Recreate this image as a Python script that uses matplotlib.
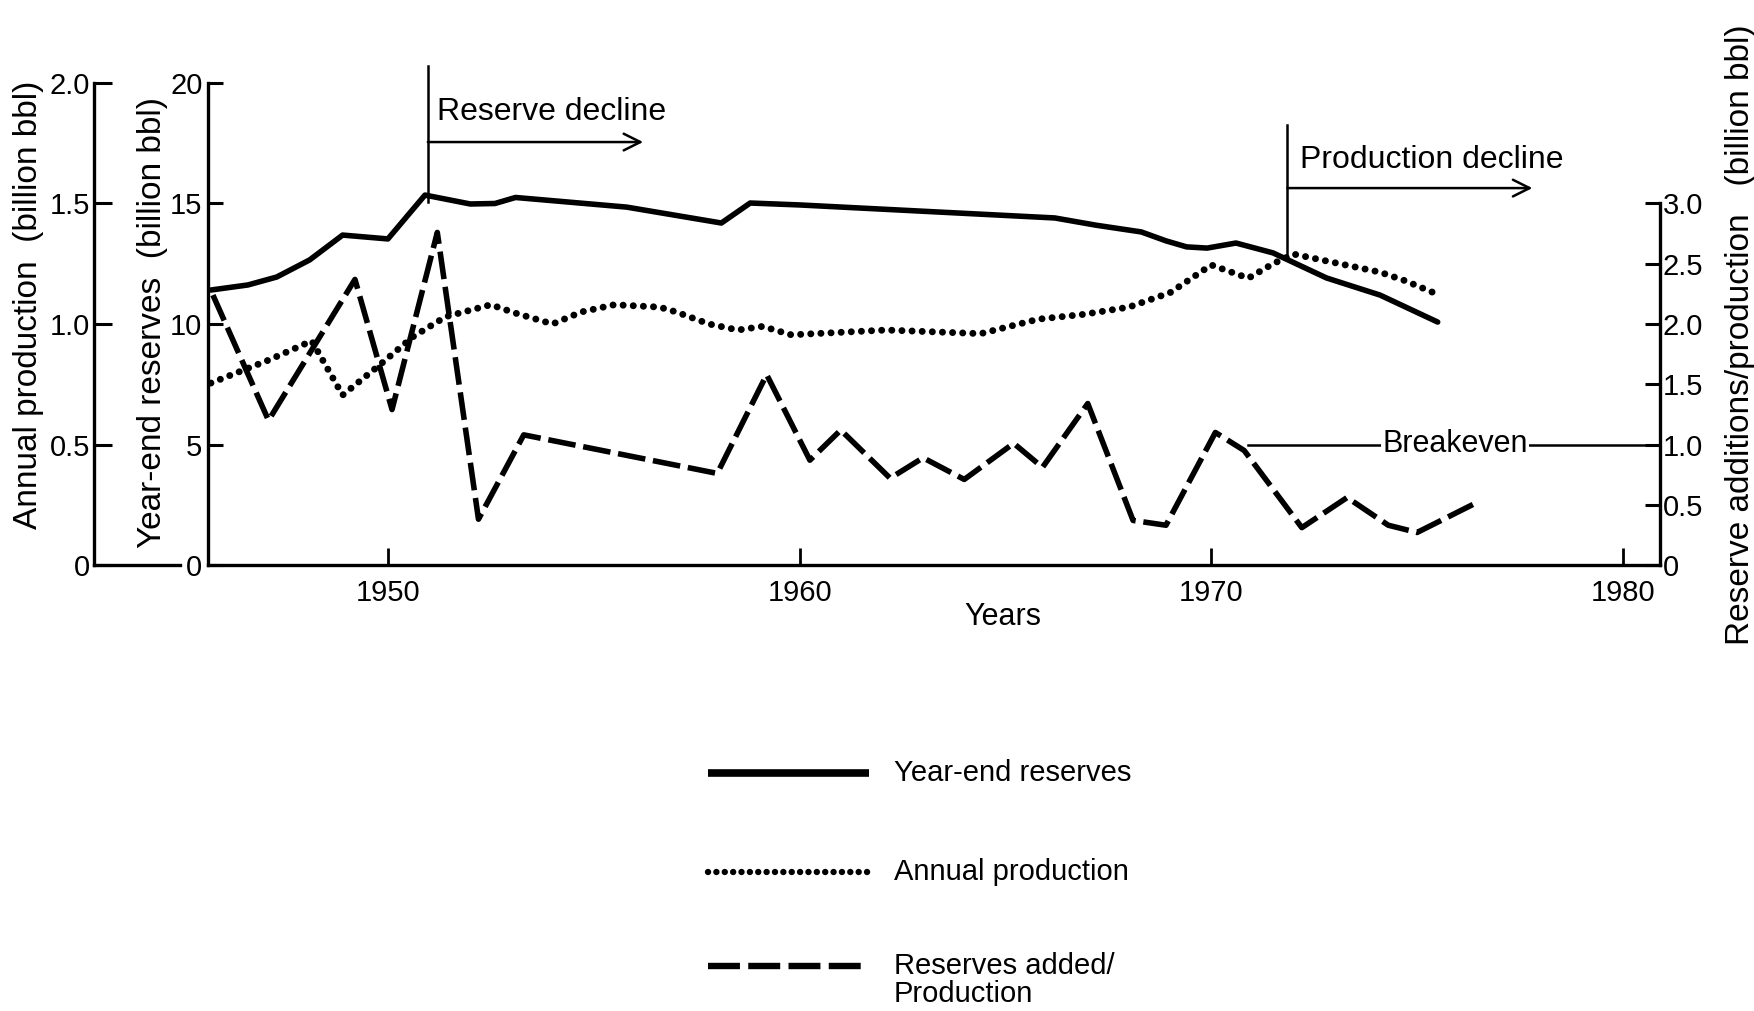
import matplotlib.pyplot as plt
from matplotlib.lines import Line2D

plt.rcParams['font.family'] = ['Liberation Sans', 'DejaVu Sans']

# year-end reserves, billion bbl (left inner axis)
res_years = [1945.7, 1946.6, 1947.3, 1948.1, 1948.9, 1950.0, 1950.9, 1952.0, 1952.6, 1953.1,
             1955.8, 1958.1, 1958.8, 1960.0, 1966.2, 1967.2, 1968.3, 1968.9, 1969.4, 1969.9,
             1970.6, 1971.5, 1972.8, 1974.1, 1975.5]
reserves = [11.41, 11.62, 11.95, 12.66, 13.69, 13.53, 15.35, 14.98, 15.0, 15.25,
            14.85, 14.19, 15.02, 14.94, 14.40, 14.1, 13.82, 13.45, 13.2, 13.15,
            13.36, 12.95, 11.91, 11.20, 10.08]

# annual production, billion bbl (left outer axis)
prod_years = [1945.7, 1947.1, 1948.15, 1948.9, 1949.8, 1950.6, 1951.4, 1952.5, 1953.1, 1954.0,
              1954.7, 1955.5, 1956.6, 1957.0, 1957.8, 1958.5, 1959.1, 1959.8, 1962.1, 1964.4,
              1965.8, 1966.9, 1968.0, 1969.0, 1970.0, 1970.9, 1971.5, 1972.0, 1974.1, 1974.7,
              1975.4]
production = [0.755, 0.85, 0.93, 0.705, 0.83, 0.946, 1.03, 1.08, 1.045, 1.0,
              1.05, 1.08, 1.07, 1.05, 1.0, 0.975, 0.99, 0.955, 0.975, 0.96,
              1.02, 1.04, 1.07, 1.13, 1.245, 1.19, 1.25, 1.29, 1.215, 1.18,
              1.13]

# reserves added / production (right axis)
ratio_years = [1945.75, 1947.1, 1949.2, 1950.1, 1951.2, 1952.2, 1953.3, 1958.0, 1959.2, 1960.25,
               1961.0, 1962.2, 1963.0, 1964.0, 1965.2, 1965.9, 1967.0, 1968.1, 1968.9, 1970.1,
               1970.8, 1972.2, 1973.3, 1974.3, 1975.0, 1976.4]
ratio = [2.24, 1.20, 2.37, 1.29, 2.76, 0.38, 1.08, 0.76, 1.58, 0.87,
         1.12, 0.72, 0.89, 0.71, 1.01, 0.81, 1.34, 0.37, 0.33, 1.10,
         0.95, 0.31, 0.56, 0.33, 0.27, 0.51]

year_ticks = [1950, 1960, 1970, 1980]
res_ticks = [0, 5, 10, 15, 20]
res_labels = ['0', '5', '10', '15', '20']
prod_ticks = [0, 0.5, 1.0, 1.5, 2.0]
prod_labels = ['0', '0.5', '1.0', '1.5', '2.0']
ratio_ticks = [0, 0.5, 1.0, 1.5, 2.0, 2.5, 3.0]
ratio_labels = ['0', '0.5', '1.0', '1.5', '2.0', '2.5', '3.0']

W, H = 1754, 1011
fig = plt.figure(figsize=(W / 100, H / 100), dpi=100)
ax = fig.add_axes([208 / W, 1 - 565 / H, 1452 / W, 482 / H])

solid_style = dict(color='black', lw=4.0, solid_capstyle='round')
dot_style = dict(color='black', lw=5.0, linestyle=(0, (0.01, 1.45)), dash_capstyle='round')
dash_style = dict(color='black', lw=4.0, linestyle=(0, (5.0, 1.4)))

# reserves axis (main)
ax.plot(res_years, reserves, **solid_style)
ax.set_xlim(1945.63, 1980.9)
ax.set_ylim(0, 20)
ax.set_xticks(year_ticks)
ax.set_yticks(res_ticks)
ax.set_yticklabels(res_labels)
ax.tick_params(axis='x', direction='in', length=12, width=2, pad=10, labelsize=21)
ax.tick_params(axis='y', direction='in', length=11, width=2.2, pad=4, labelsize=21)
for s in ['top', 'right']:
    ax.spines[s].set_visible(False)
for s in ['left', 'bottom']:
    ax.spines[s].set_linewidth(2.4)

# production axis (outer left)
ax_p = ax.twinx()
ax_p.plot(prod_years, production, **dot_style)
ax_p.set_ylim(0, 2.0)
ax_p.spines['left'].set_position(('axes', -0.0785))
ax_p.spines['left'].set_visible(True)
ax_p.spines['left'].set_linewidth(2.4)
for s in ['right', 'top', 'bottom']:
    ax_p.spines[s].set_visible(False)
ax_p.yaxis.set_ticks_position('left')
ax_p.set_yticks(prod_ticks)
ax_p.set_yticklabels(prod_labels)
ax_p.tick_params(axis='y', direction='in', length=13, width=2.2, pad=3, labelsize=21)
ax_p.plot([-0.0785, -0.0193], [0, 0], transform=ax_p.transAxes, clip_on=False,
          color='black', lw=2.4)

# ratio axis (right)
ax_r = ax.twinx()
ax_r.plot(ratio_years, ratio, **dash_style)
ax_r.set_ylim(0, 4.0)
ax_r.spines['right'].set_bounds(0, 3.0)
ax_r.spines['right'].set_linewidth(2.4)
for s in ['left', 'top', 'bottom']:
    ax_r.spines[s].set_visible(False)
ax_r.set_yticks(ratio_ticks)
ax_r.set_yticklabels(ratio_labels)
ax_r.tick_params(axis='y', direction='in', length=11, width=2.2, pad=2, labelsize=21)

# breakeven line
ax_r.plot([1970.9, 1980.9], [1.0, 1.0], color='black', lw=1.8, clip_on=False)
ax_r.text(1975.92, 1.0, 'Breakeven', ha='center', va='center', fontsize=22,
          bbox=dict(facecolor='white', edgecolor='none', pad=1))

# decline markers
arrow = dict(arrowstyle='->,head_length=0.6,head_width=0.3', color='black', lw=1.8,
             mutation_scale=20, shrinkA=0, shrinkB=0)
ax.plot([1950.97, 1950.97], [20.7, 15.06], color='black', lw=1.8, clip_on=False)
ax.annotate('', xy=(1956.2, 17.55), xytext=(1950.97, 17.55), arrowprops=arrow,
            annotation_clip=False)
ax.text(1951.2, 18.8, 'Reserve decline', ha='left', va='center', fontsize=23)

ax.plot([1971.85, 1971.85], [18.26, 12.78], color='black', lw=1.8, clip_on=False)
ax.annotate('', xy=(1977.8, 15.64), xytext=(1971.85, 15.64), arrowprops=arrow,
            annotation_clip=False)
ax.text(1972.15, 16.8, 'Production decline', ha='left', va='center', fontsize=23)

# axis titles
fig.text(29 / W, 1 - 305 / H, 'Annual production  (billion bbl)', rotation=90,
         ha='center', va='center', fontsize=24)
fig.text(152 / W, 1 - 322 / H, 'Year-end reserves  (billion bbl)', rotation=90,
         ha='center', va='center', fontsize=24)
fig.text(1740 / W, 1 - 335 / H, 'Reserve additions/production   (billion bbl)', rotation=90,
         ha='center', va='center', fontsize=24)
fig.text(1003 / W, 1 - 617 / H, 'Years', ha='center', va='center', fontsize=22)

# legend below the plot
legend_rows = [(773, 'Year-end reserves', dict(color='black', lw=5.5, solid_capstyle='butt')),
               (872, 'Annual production', dict(color='black', lw=4.6,
                                               linestyle=(0, (0.01, 1.3)),
                                               dash_capstyle='round')),
               (966, 'Reserves added/\nProduction', dict(color='black', lw=4.6,
                                                         linestyle=(0, (5.0, 1.3))))]
for y, label, style in legend_rows:
    fig.add_artist(Line2D([708 / W, 869 / W], [1 - y / H, 1 - y / H],
                          transform=fig.transFigure, **style))
    fig.text(894 / W, 1 - (y - 14) / H, label, ha='left', va='top', fontsize=21,
             linespacing=1.0)

fig.savefig('out.png', dpi=100)
